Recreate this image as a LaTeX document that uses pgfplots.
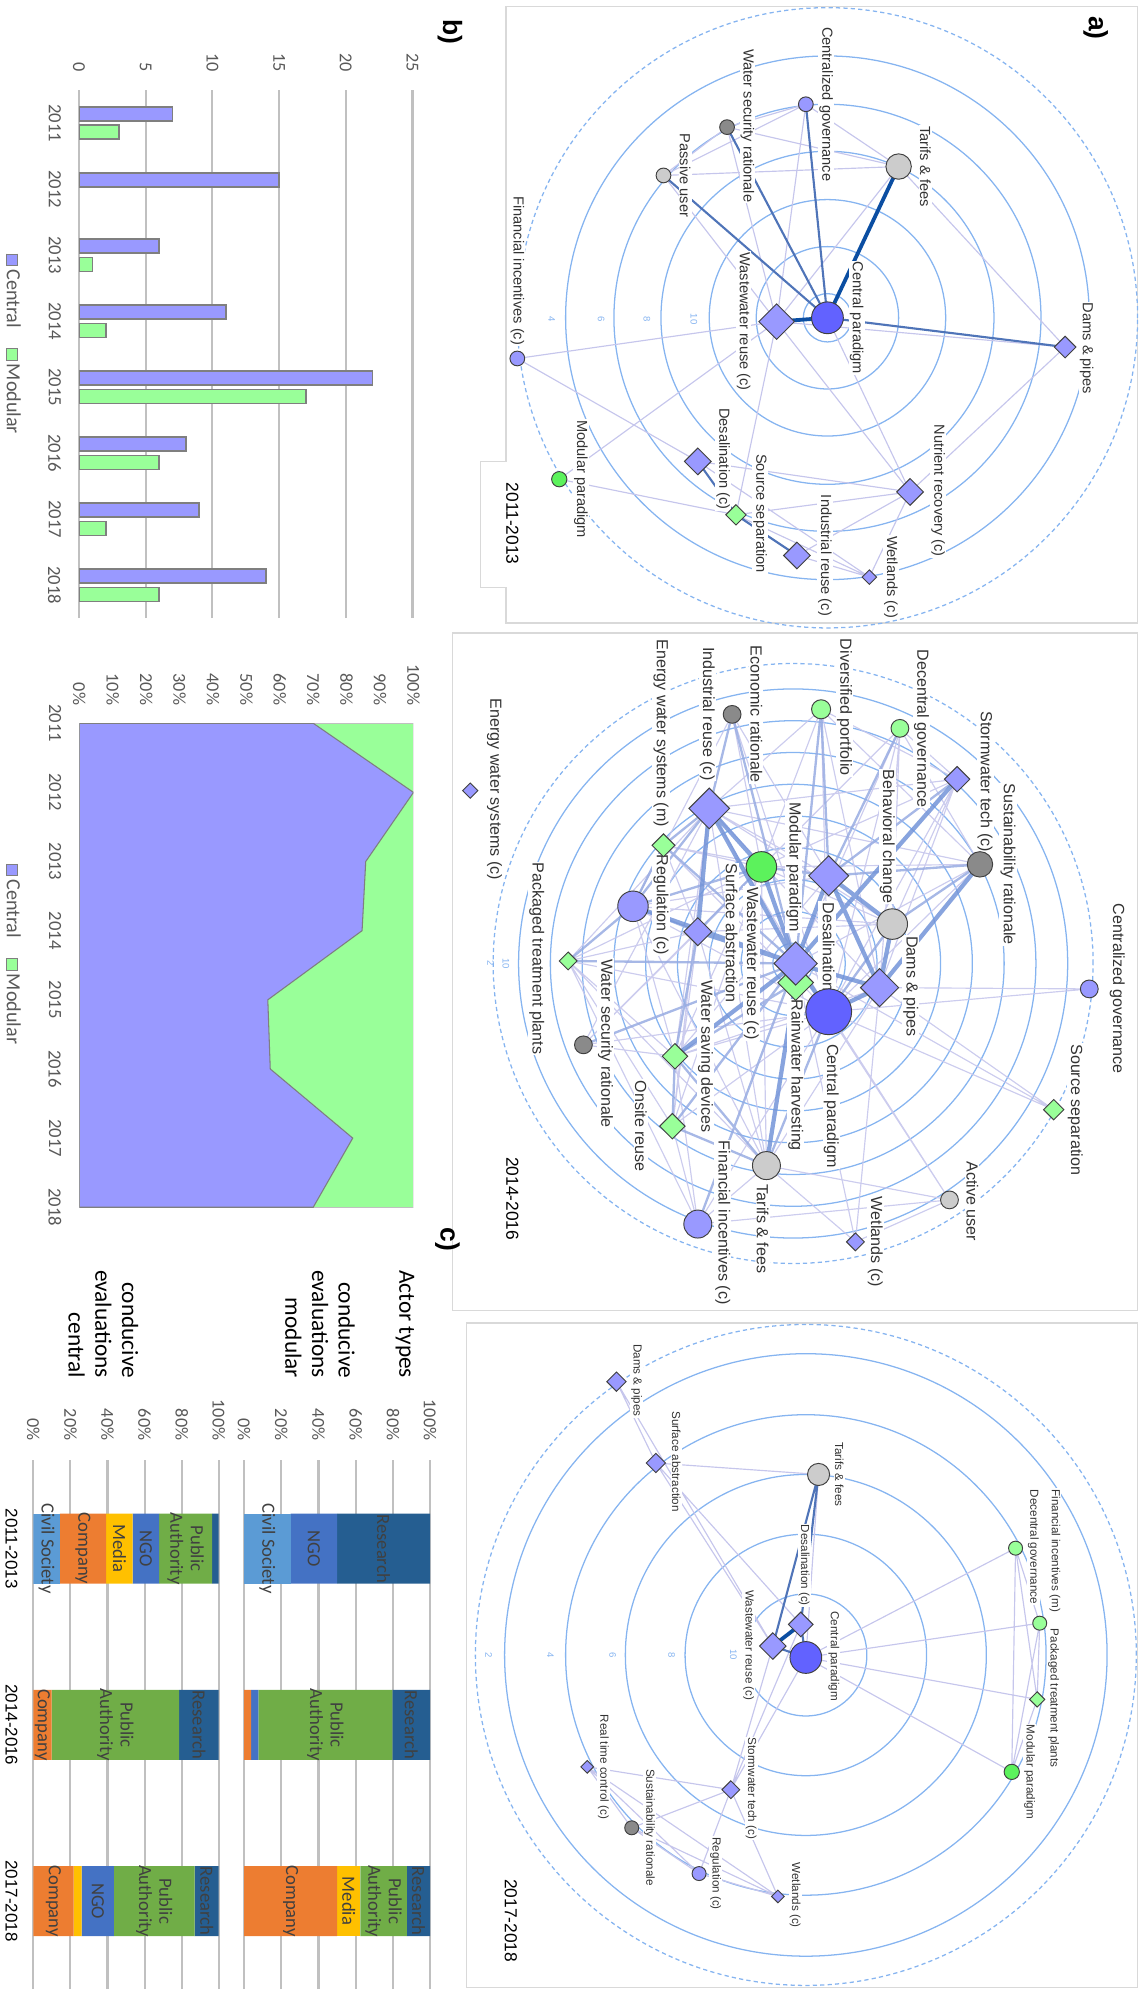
\documentclass[border=0pt]{standalone}
\usepackage{pgfplots}
\pgfplotsset{compat=1.18}
\usepackage{fontspec}
\setmainfont{Liberation Sans}
\newfontfamily\carl{Carlito}

\definecolor{ringc}{HTML}{86B4F0}
\definecolor{framec}{HTML}{D9D9D9}
\definecolor{edgel}{HTML}{C6C6EC}
\definecolor{edgem}{HTML}{98ACE2}
\definecolor{edgeh}{HTML}{7394D8}
\definecolor{edgemd}{HTML}{4F74B8}
\definecolor{edged}{HTML}{0B4EA2}
\definecolor{cnode}{HTML}{9999FF}
\definecolor{cnodeD}{HTML}{6262FF}
\definecolor{gnode}{HTML}{99FF99}
\definecolor{gnodeB}{HTML}{5CF25C}
\definecolor{lgray}{HTML}{CCCCCC}
\definecolor{dgray}{HTML}{8A8A8A}
\definecolor{nodeedge}{HTML}{404040}
\definecolor{lbl}{HTML}{333333}
\definecolor{barC}{HTML}{9999FF}
\definecolor{barM}{HTML}{99FF99}
\definecolor{barE}{HTML}{7F7F7F}
\definecolor{gridc}{HTML}{C0C0C0}
\definecolor{tickc}{HTML}{595959}
\definecolor{acCS}{HTML}{5B9BD5}
\definecolor{acCo}{HTML}{ED7D31}
\definecolor{acMe}{HTML}{FFC000}
\definecolor{acNG}{HTML}{4472C4}
\definecolor{acPA}{HTML}{70AD47}
\definecolor{acRe}{HTML}{255E91}
\definecolor{seglbl}{HTML}{404040}

\newcommand\fa{\fontsize{6.9}{8}\selectfont}
\newcommand\fb{\fontsize{7.6}{9}\selectfont}
\newcommand\fc{\fontsize{5.5}{6.5}\selectfont}
\newcommand\fyr{\fontsize{8.2}{10}\selectfont}
\newcommand\fring{\fontsize{4.5}{5}\selectfont}
\newcommand\ftick{\carl\fontsize{8.6}{10}\selectfont}
\newcommand\swatch[1]{{\setlength\fboxsep{0pt}\setlength\fboxrule{0.4pt}\fcolorbox{barE}{#1}{\rule{0pt}{5pt}\rule{5pt}{0pt}}}}

\pgfplotsset{
  circ/.style 2 args={only marks, mark=*, mark size=#2*0.6pt,
    mark options={fill=#1, draw=nodeedge, line width=0.45pt}},
  dia/.style 2 args={only marks, mark=square*, mark size=#2*0.4243pt,
    mark options={rotate=45, fill=#1, draw=nodeedge, line width=0.45pt}},
  eL/.style={no markers, draw=edgel, line width=0.55pt},
  eM/.style={no markers, draw=edgem, line width=1.1pt, opacity=0.85},
  eH/.style={no markers, draw=edgeh, line width=2.0pt, opacity=0.85},
  eMD/.style={no markers, draw=edgemd, line width=1.0pt},
  eD/.style={no markers, draw=edged, line width=1.8pt},
  stackgeom/.style={anchor=center, scale only axis, height=249.6pt,
    xmin=0, xmax=100, ymin=-0.5, ymax=2.5},
}
\tikzset{
  lab/.style={rotate=-90, fill=white, inner sep=0.5pt, text=lbl},
  rlab/.style={rotate=-90, inner sep=0pt, text=ringc, font=\fring},
  seg/.style={rotate=-90, text=seglbl, align=center, inner sep=0pt,
    font=\carl\fontsize{8.8}{9.6}\selectfont},
}

\begin{document}
\begin{tikzpicture}
\path[use as bounding box] (0pt,0pt) rectangle (538.8pt,-940.8pt);

% ================= network panels =================
\begin{axis}[at={(269.4pt,-470.4pt)}, anchor=center, scale only axis,
  width=538.8pt, height=940.8pt, xmin=0, xmax=898, ymin=0, ymax=1568,
  y dir=reverse, hide axis, clip=false, unbounded coords=jump]

% panel frames
\draw[framec, line width=0.7pt] (398,5) -- (895,5) -- (895,490) -- (398,490)
  -- (398,462) -- (378,462) -- (378,363) -- (398,363) -- cycle;
\draw[framec, line width=0.7pt] (356,498) rectangle (895,1031);
\draw[framec, line width=0.7pt] (367,1041) rectangle (895,1563.5);

% ---------- 2011-2013 ----------
\pgfplotsinvokeforeach{19,56,93,131,168,206}{
  \draw[ringc, line width=0.6pt] (651,250) circle[radius=#1*0.6pt];}
\draw[ringc, line width=0.6pt, dash pattern=on 2pt off 1.5pt] (651,250) circle[radius=244*0.6pt];

\addplot[eL] coordinates {
 (407,282)(611,253) (nan,nan) (407,282)(549,363) (nan,nan)
 (440,377)(611,253) (nan,nan) (440,377)(579,405) (nan,nan)
 (611,253)(579,405) (nan,nan) (611,253)(716,387) (nan,nan)
 (611,253)(634,82) (nan,nan) (611,253)(572,100) (nan,nan)
 (611,253)(707,131) (nan,nan) (611,253)(522,138) (nan,nan)
 (651,250)(716,387) (nan,nan) (707,131)(838,273) (nan,nan)
 (707,131)(634,82) (nan,nan) (707,131)(572,100) (nan,nan)
 (707,131)(522,138) (nan,nan) (634,82)(572,100) (nan,nan)
 (634,82)(522,138) (nan,nan) (572,100)(522,138) (nan,nan)
 (716,387)(838,273) (nan,nan) (579,405)(716,387) (nan,nan)
 (627,437)(716,387) (nan,nan) (684,454)(716,387) (nan,nan)
 (627,437)(684,454) (nan,nan) (579,405)(684,454) (nan,nan)
 (549,363)(716,387) (nan,nan) (549,363)(684,454) (nan,nan)
 (611,253)(838,273)};
\addplot[eMD] coordinates {
 (634,82)(651,250) (nan,nan) (572,100)(651,250) (nan,nan)
 (522,138)(651,250) (nan,nan) (838,273)(651,250) (nan,nan)
 (549,363)(579,405) (nan,nan) (579,405)(627,437)};
\addplot[eD] coordinates {(707,131)(651,250) (nan,nan) (611,253)(651,250)};

\addplot[circ={cnodeD}{12.5}] coordinates {(651,250)};
\addplot[dia={cnode}{14}] coordinates {(611,253)};
\addplot[dia={cnode}{8.5}] coordinates {(838,273)};
\addplot[circ={lgray}{10}] coordinates {(707,131)};
\addplot[circ={cnode}{5.8}] coordinates {(634,82)};
\addplot[circ={dgray}{5.8}] coordinates {(572,100)};
\addplot[circ={lgray}{5.8}] coordinates {(522,138)};
\addplot[circ={cnode}{5.8}] coordinates {(407,282)};
\addplot[circ={gnodeB}{6}] coordinates {(440,377)};
\addplot[dia={cnode}{10.5}] coordinates {(549,363)};
\addplot[dia={gnode}{8}] coordinates {(579,405)};
\addplot[dia={cnode}{10.5}] coordinates {(627,437)};
\addplot[dia={cnode}{10.5}] coordinates {(716,387)};
\addplot[dia={cnode}{5.7}] coordinates {(684,454)};

\node[lab,font=\fa] at (674,250) {Central paradigm};
\node[lab,font=\fa] at (585,253) {Wastewater reuse (c)};
\node[lab,font=\fa] at (855,274) {Dams \& pipes};
\node[lab,font=\fa] at (728,131) {Tarifs \& fees};
\node[lab,font=\fa] at (650,82) {Centralized governance};
\node[lab,font=\fa] at (588,99) {Water security rationale};
\node[lab,font=\fa] at (539,138) {Passive user};
\node[lab,font=\fa] at (407,213) {Financial incentives (c)};
\node[lab,font=\fa] at (457,377) {Modular paradigm};
\node[lab,font=\fa] at (569,361) {Desalination (c)};
\node[lab,font=\fa] at (598,404) {Source separation};
\node[lab,font=\fa] at (649,437) {Industrial reuse (c)};
\node[lab,font=\fa] at (738,386) {Nutrient recovery (c)};
\node[lab,font=\fa] at (701,454) {Wetlands (c)};
\node[rlab] at (434,251) {4};
\node[rlab] at (473,251) {6};
\node[rlab] at (509,251) {8};
\node[rlab] at (546,251) {10};
\node[rotate=-90, font=\fyr] at (403,412) {2011-2013};
\node[rotate=-90, font=\bfseries\fontsize{12.5}{14}\selectfont] at (862,22) {a)};

% ---------- 2014-2016 ----------
\pgfplotsinvokeforeach{16,41,66,91,116,141,166,191,216}{
  \draw[ringc, line width=0.6pt] (624,758) circle[radius=#1*0.6pt];}
\draw[ringc, line width=0.6pt, dash pattern=on 2pt off 1.5pt] (624,758) circle[radius=236*0.6pt];

\addplot[eL, opacity=0.9] coordinates {
 (753,613)(692,777) (nan,nan) (753,613)(702,727) (nan,nan) (753,613)(652,796) (nan,nan)
 (753,613)(599,682) (nan,nan) (753,613)(558,636) (nan,nan) (753,613)(708,573) (nan,nan)
 (753,613)(646,558) (nan,nan) (771,680)(626,758) (nan,nan) (771,680)(652,796) (nan,nan)
 (771,680)(599,682) (nan,nan) (771,680)(558,636) (nan,nan) (771,680)(646,558) (nan,nan)
 (771,680)(708,573) (nan,nan) (708,573)(626,758) (nan,nan) (708,573)(599,682) (nan,nan)
 (708,573)(702,727) (nan,nan) (708,573)(692,777) (nan,nan) (708,573)(652,796) (nan,nan)
 (646,558)(599,682) (nan,nan) (646,558)(558,636) (nan,nan) (646,558)(652,796) (nan,nan)
 (646,558)(692,777) (nan,nan) (576,562)(599,682) (nan,nan) (576,562)(652,689) (nan,nan)
 (576,562)(652,796) (nan,nan) (576,562)(498,713) (nan,nan) (522,665)(599,682) (nan,nan)
 (522,665)(549,733) (nan,nan) (522,665)(652,796) (nan,nan) (522,665)(652,689) (nan,nan)
 (558,636)(652,689) (nan,nan) (558,636)(652,796) (nan,nan) (558,636)(692,777) (nan,nan)
 (558,636)(702,727) (nan,nan) (558,636)(531,831) (nan,nan) (558,636)(529,886) (nan,nan)
 (498,713)(531,831) (nan,nan) (498,713)(652,796) (nan,nan) (498,713)(652,689) (nan,nan)
 (498,713)(702,727) (nan,nan) (498,713)(603,917) (nan,nan) (447,756)(549,733) (nan,nan)
 (447,756)(531,831) (nan,nan) (447,756)(558,636) (nan,nan) (447,756)(599,682) (nan,nan)
 (447,756)(652,796) (nan,nan) (447,756)(529,886) (nan,nan) (447,756)(603,917) (nan,nan)
 (447,756)(549,963) (nan,nan) (459,822)(549,733) (nan,nan) (459,822)(599,682) (nan,nan)
 (459,822)(652,796) (nan,nan) (459,822)(531,831) (nan,nan) (459,822)(558,636) (nan,nan)
 (531,831)(652,796) (nan,nan) (531,831)(599,682) (nan,nan) (531,831)(652,689) (nan,nan)
 (531,831)(692,777) (nan,nan) (529,886)(652,796) (nan,nan) (529,886)(549,733) (nan,nan)
 (529,886)(599,682) (nan,nan) (529,886)(549,963) (nan,nan) (603,917)(599,682) (nan,nan)
 (603,917)(692,777) (nan,nan) (603,917)(747,944) (nan,nan) (603,917)(673,977) (nan,nan)
 (603,917)(549,963) (nan,nan) (603,917)(558,636) (nan,nan) (603,917)(549,733) (nan,nan)
 (549,963)(652,796) (nan,nan) (549,963)(531,831) (nan,nan) (673,977)(626,758) (nan,nan)
 (673,977)(692,777) (nan,nan) (673,977)(747,944) (nan,nan) (747,944)(652,796) (nan,nan)
 (747,944)(626,758) (nan,nan) (747,944)(549,963) (nan,nan) (857,778)(652,796) (nan,nan)
 (857,778)(692,777) (nan,nan) (829,873)(652,796) (nan,nan) (829,873)(626,758) (nan,nan)
 (829,873)(692,777) (nan,nan) (702,727)(599,682) (nan,nan) (702,727)(549,733)};
\addplot[eM] coordinates {
 (753,613)(652,689) (nan,nan) (771,680)(652,689) (nan,nan) (771,680)(702,727) (nan,nan)
 (558,636)(522,665) (nan,nan) (558,636)(498,713) (nan,nan) (522,665)(498,713) (nan,nan)
 (522,665)(626,758) (nan,nan) (498,713)(549,733) (nan,nan) (498,713)(599,682) (nan,nan)
 (549,733)(599,682) (nan,nan) (531,831)(529,886) (nan,nan) (531,831)(549,733) (nan,nan)
 (531,831)(626,773) (nan,nan) (529,886)(603,917) (nan,nan) (603,917)(652,796) (nan,nan)
 (702,727)(652,796) (nan,nan) (708,573)(652,689) (nan,nan) (646,558)(652,689) (nan,nan)
 (646,558)(626,758) (nan,nan) (576,562)(558,636) (nan,nan) (576,562)(626,758) (nan,nan)
 (459,822)(626,758) (nan,nan) (447,756)(626,758) (nan,nan) (447,756)(498,713) (nan,nan)
 (549,963)(626,758) (nan,nan) (529,886)(626,758) (nan,nan) (599,682)(652,689) (nan,nan)
 (603,917)(531,831)};
\addplot[eH] coordinates {
 (626,758)(652,689) (nan,nan) (626,758)(652,796) (nan,nan) (626,758)(692,777) (nan,nan)
 (626,758)(558,636) (nan,nan) (626,758)(599,682) (nan,nan) (626,758)(549,733) (nan,nan)
 (626,758)(531,831) (nan,nan) (652,689)(692,777) (nan,nan) (652,689)(702,727) (nan,nan)
 (558,636)(599,682) (nan,nan) (771,680)(692,777) (nan,nan) (692,777)(652,796) (nan,nan)
 (626,773)(603,917) (nan,nan) (702,727)(692,777) (nan,nan) (558,636)(549,733) (nan,nan)
 (626,758)(498,713) (nan,nan) (753,613)(626,758)};

\addplot[circ={cnodeD}{18}] coordinates {(652,796)};
\addplot[dia={gnode}{14}] coordinates {(626,773)};
\addplot[dia={cnode}{17}] coordinates {(626,758)};
\addplot[dia={cnode}{15.7}] coordinates {(652,689)};
\addplot[dia={cnode}{15}] coordinates {(692,777)};
\addplot[circ={lgray}{12}] coordinates {(702,727)};
\addplot[dia={cnode}{16}] coordinates {(558,636)};
\addplot[circ={gnodeB}{12}] coordinates {(599,682)};
\addplot[circ={dgray}{10}] coordinates {(771,680)};
\addplot[dia={cnode}{10}] coordinates {(753,613)};
\addplot[circ={gnode}{7}] coordinates {(708,573)};
\addplot[circ={gnode}{7.5}] coordinates {(646,558)};
\addplot[circ={dgray}{7}] coordinates {(576,562)};
\addplot[dia={gnode}{9}] coordinates {(522,665)};
\addplot[dia={cnode}{6}] coordinates {(370,622)};
\addplot[circ={cnode}{12}] coordinates {(498,713)};
\addplot[dia={cnode}{11}] coordinates {(549,733)};
\addplot[dia={gnode}{7}] coordinates {(447,756)};
\addplot[circ={dgray}{7}] coordinates {(459,822)};
\addplot[dia={gnode}{10}] coordinates {(531,831)};
\addplot[dia={gnode}{10}] coordinates {(529,886)};
\addplot[circ={lgray}{11}] coordinates {(603,917)};
\addplot[circ={cnode}{11}] coordinates {(549,963)};
\addplot[dia={cnode}{7}] coordinates {(673,977)};
\addplot[circ={lgray}{7}] coordinates {(747,944)};
\addplot[circ={cnode}{7}] coordinates {(857,778)};
\addplot[dia={gnode}{8}] coordinates {(829,873)};

\node[lab,font=\fb] at (389,621) {Energy water systems (c)};
\node[lab,font=\fb] at (520,577) {Energy water systems (m)};
\node[lab,font=\fb] at (556.5,561.5) {Industrial reuse (c)};
\node[lab,font=\fb] at (595,562) {Economic rationale};
\node[lab,font=\fb] at (664.5,556.5) {Diversified portfolio};
\node[lab,font=\fb] at (725,573) {Decentral governance};
\node[lab,font=\fb] at (775,615) {Stormwater tech (c)};
\node[lab,font=\fb] at (793,680) {Sustainability rationale};
\node[lab,font=\fb] at (698,658) {Behavioral change};
\node[lab,font=\fb] at (624.5,682) {Modular paradigm};
\node[lab,font=\fb] at (650.6,754) {Desalination (c)};
\node[lab,font=\fb] at (591,758) {Wastewater reuse (c)};
\node[lab,font=\fb] at (626,846) {Rainwater harvesting};
\node[lab,font=\fb] at (654,870) {Central paradigm};
\node[lab,font=\fb] at (716.5,776) {Dams \& pipes};
\node[lab,font=\fb] at (879,778) {Centralized governance};
\node[lab,font=\fb] at (846,873) {Source separation};
\node[lab,font=\fb] at (520,712) {Regulation (c)};
\node[lab,font=\fb] at (575.7,734) {Surface abstraction};
\node[lab,font=\fb] at (422.4,754) {Packaged treatment plants};
\node[lab,font=\fb] at (476.4,821) {Water security rationale};
\node[lab,font=\fb] at (555,831) {Water saving devices};
\node[lab,font=\fb] at (504.3,886) {Onsite reuse};
\node[lab,font=\fb] at (600,967) {Tarifs \& fees};
\node[lab,font=\fb] at (568.7,962) {Financial incentives (c)};
\node[lab,font=\fb] at (688.7,977) {Wetlands (c)};
\node[lab,font=\fb] at (765,945) {Active user};
\node[rlab] at (398,758) {10};
\node[rlab] at (386,758) {2};
\node[rotate=-90, font=\fyr] at (403,943) {2014-2016};

% ---------- 2017-2018 ----------
\pgfplotsinvokeforeach{48,95,142,189,237}{
  \draw[ringc, line width=0.6pt] (634,1302) circle[radius=#1*0.6pt];}
\draw[ringc, line width=0.6pt, dash pattern=on 2pt off 1.5pt] (634,1302) circle[radius=260*0.6pt];

\addplot[eL] coordinates {
 (485,1087)(516,1151) (nan,nan) (485,1087)(608,1295) (nan,nan) (516,1151)(644,1160) (nan,nan)
 (516,1151)(630,1278) (nan,nan) (516,1151)(608,1295) (nan,nan) (644,1160)(634,1304) (nan,nan)
 (799,1218)(634,1304) (nan,nan) (818,1277)(634,1304) (nan,nan) (816,1337)(634,1304) (nan,nan)
 (796,1394)(634,1304) (nan,nan) (799,1218)(818,1277) (nan,nan) (799,1218)(816,1337) (nan,nan)
 (799,1218)(796,1394) (nan,nan) (818,1277)(816,1337) (nan,nan) (818,1277)(796,1394) (nan,nan)
 (816,1337)(796,1394) (nan,nan) (575,1408)(634,1304) (nan,nan) (575,1408)(608,1295) (nan,nan)
 (575,1408)(630,1278) (nan,nan) (575,1408)(462,1390) (nan,nan) (575,1408)(497,1438) (nan,nan)
 (575,1408)(550,1474) (nan,nan) (575,1408)(612,1492) (nan,nan) (462,1390)(497,1438) (nan,nan)
 (462,1390)(550,1474) (nan,nan) (462,1390)(612,1492) (nan,nan) (497,1438)(550,1474) (nan,nan)
 (497,1438)(612,1492) (nan,nan) (550,1474)(612,1492)};
\addplot[eMD] coordinates {
 (608,1295)(634,1304) (nan,nan) (630,1278)(634,1304) (nan,nan)
 (644,1160)(630,1278) (nan,nan) (644,1160)(608,1295)};
\addplot[eD] coordinates {(608,1295)(630,1278)};

\addplot[dia={cnode}{7.6}] coordinates {(485,1087)};
\addplot[dia={cnode}{7.6}] coordinates {(516,1151)};
\addplot[circ={lgray}{8.7}] coordinates {(644,1160)};
\addplot[circ={cnodeD}{12.5}] coordinates {(634,1304)};
\addplot[dia={cnode}{9.7}] coordinates {(630,1278)};
\addplot[dia={cnode}{10.4}] coordinates {(608,1295)};
\addplot[circ={gnode}{5.5}] coordinates {(799,1218)};
\addplot[circ={gnode}{5.5}] coordinates {(818,1277)};
\addplot[dia={gnode}{6}] coordinates {(816,1337)};
\addplot[circ={gnodeB}{6}] coordinates {(796,1394)};
\addplot[dia={cnode}{7}] coordinates {(575,1408)};
\addplot[dia={cnode}{5}] coordinates {(462,1390)};
\addplot[circ={dgray}{5.5}] coordinates {(497,1438)};
\addplot[circ={cnode}{5.5}] coordinates {(550,1474)};
\addplot[dia={cnode}{5}] coordinates {(612,1492)};

\node[lab,font=\fc] at (500.8,1086) {Dams \& pipes};
\node[lab,font=\fc] at (532,1150) {Surface abstraction};
\node[lab,font=\fc] at (660.3,1160) {Tarifs \& fees};
\node[lab,font=\fc] at (632.6,1231.5) {Desalination (c)};
\node[lab,font=\fc] at (589,1294.5) {Wastewater reuse (c)};
\node[lab,font=\fc] at (656,1303) {Central paradigm};
\node[lab,font=\fc] at (830,1220) {Financial incentives (m)};
\node[lab,font=\fc] at (813,1217) {Decentral governance};
\node[lab,font=\fc] at (829,1336) {Packaged treatment plants};
\node[lab,font=\fc] at (810,1394) {Modular paradigm};
\node[lab,font=\fc] at (591,1407) {Stormwater tech (c)};
\node[lab,font=\fc] at (474.7,1390) {Real time control (c)};
\node[lab,font=\fc] at (511,1437.6) {Sustainability rationale};
\node[lab,font=\fc] at (563,1474) {Regulation (c)};
\node[lab,font=\fc] at (625.6,1491) {Wetlands (c)};
\node[rlab] at (384.5,1302) {2};
\node[rlab] at (433,1302) {4};
\node[rlab] at (482,1302) {6};
\node[rlab] at (528.5,1302) {8};
\node[rlab] at (577,1302) {10};
\node[rotate=-90, font=\fyr] at (402,1511) {2017-2018};

% ---------- panel letters, legends and titles ----------
\node[rotate=-90, font=\bfseries\fontsize{12.5}{14}\selectfont] at (354,25) {b)};
\node[rotate=-90, font=\bfseries\fontsize{12.5}{14}\selectfont] at (352,975) {c)};
\node[rotate=-90, text=tickc, font=\carl\fontsize{9.5}{11}\selectfont] at (10.5,270.5)
  {\swatch{barC}\,Central\quad\swatch{barM}\,Modular};
\node[rotate=-90, text=tickc, font=\carl\fontsize{9.5}{11}\selectfont] at (10.5,750.5)
  {\swatch{barC}\,Central\quad\swatch{barM}\,Modular};
\node[rotate=-90, anchor=east, font=\carl\fontsize{11}{12.6}\selectfont] at (318.7,1090) {Actor types};
\node[rotate=-90, anchor=east, align=right, font=\carl\fontsize{11}{12.6}\selectfont] at (251.8,1090)
  {conducive\\evaluations\\modular};
\node[rotate=-90, anchor=east, align=right, font=\carl\fontsize{11}{12.6}\selectfont] at (81.3,1090)
  {conducive\\evaluations\\central};
\end{axis}

% ================= b) yearly counts =================
\begin{axis}[at={(116.01pt,-167.16pt)}, anchor=center, scale only axis,
  width=157.38pt, height=249.36pt,
  xbar, bar width=6.6pt, xmin=0, xmax=25, ymin=-0.5, ymax=7.5,
  xtick={0,5,...,25}, ytick={0,...,7},
  yticklabels={2018,2017,2016,2015,2014,2013,2012,2011},
  xmajorgrids, grid style={gridc, line width=1pt},
  axis line style={draw=none}, major tick length=0pt, tick style={draw=none},
  xticklabel pos=upper,
  /pgf/number format/assume math mode=true,
  xticklabel style={yshift=5pt, rotate=-90, anchor=east, font=\ftick, text=tickc},
  yticklabel style={xshift=-5pt, rotate=-90, anchor=north, font=\carl\fontsize{8.8}{10}\selectfont, text=tickc},
]
\addplot[fill=barC, draw=barE, line width=0.8pt, bar shift=4.38pt]
  coordinates {(7,7) (15,6) (6,5) (11,4) (22,3) (8,2) (9,1) (14,0)};
\addplot[fill=barM, draw=barE, line width=0.8pt, bar shift=-4.38pt]
  coordinates {(3,7) (1,5) (2,4) (17,3) (6,2) (2,1) (6,0)};
\end{axis}

% ================= b) yearly shares =================
\begin{axis}[at={(116.31pt,-455.64pt)}, anchor=center, scale only axis,
  width=157.74pt, height=228.48pt,
  xmin=0, xmax=100, ymin=0, ymax=7,
  xtick={0,10,...,100},
  xticklabels={0\%,10\%,20\%,30\%,40\%,50\%,60\%,70\%,80\%,90\%,100\%},
  ytick={0,...,7}, yticklabels={2018,2017,2016,2015,2014,2013,2012,2011},
  axis line style={draw=none}, major tick length=0pt, tick style={draw=none},
  xticklabel pos=upper,
  xticklabel style={yshift=5pt, rotate=-90, anchor=east, font=\ftick, text=tickc},
  yticklabel style={xshift=-5pt, rotate=-90, anchor=north, font=\carl\fontsize{8.8}{10}\selectfont, text=tickc},
]
\addplot[fill=barM, draw=gridc, line width=0.5pt]
  coordinates {(0,7) (100,7) (100,0) (0,0)} -- cycle;
\addplot[fill=barC, draw=barE, line width=0.5pt]
  coordinates {(0,7) (70,7) (100,6) (85.71,5) (84.62,4) (56.41,3) (57.14,2) (81.82,1) (70,0) (0,0)} -- cycle;
\draw[gridc!80!black, line width=1pt] (0,0) -- (0,7);
\end{axis}

% ================= c) actor types, central =================
\begin{axis}[at={(59.49pt,-814.2pt)}, stackgeom, width=87.54pt,
  xbar stacked, bar width=33pt,
  xtick={0,20,...,100}, xticklabels={0\%,20\%,40\%,60\%,80\%,100\%},
  ytick={0,1,2}, yticklabels={2017-2018,2014-2016,2011-2013},
  xmajorgrids, grid style={gridc, line width=1pt},
  axis line style={draw=none}, major tick length=0pt, tick style={draw=none},
  xticklabel pos=upper,
  xticklabel style={yshift=6pt, rotate=-90, anchor=east, font=\ftick, text=tickc},
  yticklabel style={xshift=-4pt, rotate=-90, anchor=north, font=\fontsize{8}{9.6}\selectfont, text=black},
]
\addplot[fill=acCS, draw=none] coordinates {(14.29,2) (0,1) (0,0)};
\addplot[fill=acCo, draw=none] coordinates {(25,2) (9.9,1) (21.74,0)};
\addplot[fill=acMe, draw=none] coordinates {(14.29,2) (0,1) (4.35,0)};
\addplot[fill=acNG, draw=none] coordinates {(14.29,2) (0,1) (17.39,0)};
\addplot[fill=acPA, draw=none] coordinates {(28.57,2) (68.7,1) (43.48,0)};
\addplot[fill=acRe, draw=none] coordinates {(3.56,2) (21.4,1) (13.04,0)};
\end{axis}
% segment names, central
\begin{axis}[at={(59.49pt,-814.2pt)}, stackgeom, width=87.54pt, hide axis, clip=false]
\node[seg] at (7.14,2) {Civil Society};
\node[seg] at (26.79,2) {Company};
\node[seg] at (46.43,2) {Media};
\node[seg] at (60.71,2) {NGO};
\node[seg] at (82.14,2) {Public\\Authority};
\node[seg] at (4.95,1) {Company};
\node[seg] at (44.25,1) {Public\\Authority};
\node[seg] at (89.3,1) {Research};
\node[seg] at (10.87,0) {Company};
\node[seg] at (34.78,0) {NGO};
\node[seg] at (65.22,0) {Public\\Authority};
\node[seg] at (93.48,0) {Research};
\end{axis}

% ================= c) actor types, modular =================
\begin{axis}[at={(159.12pt,-814.2pt)}, stackgeom, width=87.84pt,
  xbar stacked, bar width=33pt,
  xtick={0,20,...,100}, xticklabels={0\%,20\%,40\%,60\%,80\%,100\%},
  ytick=\empty,
  xmajorgrids, grid style={gridc, line width=1pt},
  axis line style={draw=none}, major tick length=0pt, tick style={draw=none},
  xticklabel pos=upper,
  xticklabel style={yshift=6pt, rotate=-90, anchor=east, font=\ftick, text=tickc},
]
\addplot[fill=acCS, draw=none] coordinates {(25,2) (0,1) (0,0)};
\addplot[fill=acCo, draw=none] coordinates {(0,2) (3.85,1) (50,0)};
\addplot[fill=acMe, draw=none] coordinates {(0,2) (0,1) (12.5,0)};
\addplot[fill=acNG, draw=none] coordinates {(25,2) (3.85,1) (0,0)};
\addplot[fill=acPA, draw=none] coordinates {(0,2) (72,1) (25,0)};
\addplot[fill=acRe, draw=none] coordinates {(50,2) (20.3,1) (12.5,0)};
\end{axis}
% segment names, modular
\begin{axis}[at={(159.12pt,-814.2pt)}, stackgeom, width=87.84pt, hide axis, clip=false]
\node[seg] at (12.5,2) {Civil Society};
\node[seg] at (37.5,2) {NGO};
\node[seg] at (75,2) {Research};
\node[seg] at (43.7,1) {Public\\Authority};
\node[seg] at (89.85,1) {Research};
\node[seg] at (25,0) {Company};
\node[seg] at (56.25,0) {Media};
\node[seg] at (75,0) {Public\\Authority};
\node[seg] at (93.75,0) {Research};
\end{axis}
\end{tikzpicture}
\end{document}
